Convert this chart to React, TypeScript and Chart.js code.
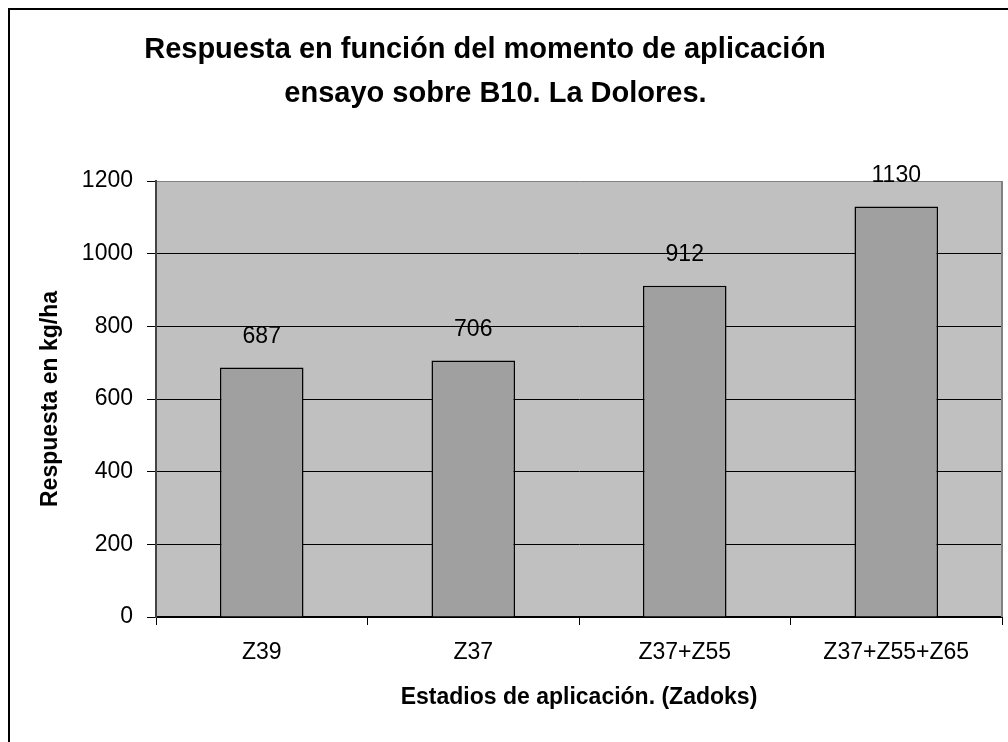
import React, { useEffect, useRef } from "react";
import { Chart, registerables } from "chart.js";

Chart.register(...registerables);

const categories = ["Z39", "Z37", "Z37+Z55", "Z37+Z55+Z65"];
const respuesta = [687, 706, 912, 1130];
const titleLines = ["Respuesta en función del momento de aplicación", "ensayo sobre B10. La Dolores."];
const yAxisTitle = "Respuesta en kg/ha";
const xAxisTitle = "Estadios de aplicación. (Zadoks)";

const FONT = "'Liberation Sans', Arial, sans-serif";

const plotBgPlugin = {
  id: "plotBg",
  beforeDraw(chart: any) {
    const { ctx, chartArea: a } = chart;
    ctx.save();
    ctx.fillStyle = "#C0C0C0";
    ctx.fillRect(a.left, a.top, a.right - a.left, a.bottom - a.top);
    ctx.restore();
  },
  afterDraw(chart: any) {
    const { ctx, chartArea: a } = chart;
    ctx.save();
    ctx.strokeStyle = "#808080";
    ctx.lineWidth = 2;
    ctx.beginPath();
    ctx.moveTo(a.right, a.top);
    ctx.lineTo(a.right, a.bottom);
    ctx.stroke();
    // title
    ctx.fillStyle = "#000";
    ctx.font = `bold 29px ${FONT}`;
    ctx.textAlign = "center";
    ctx.textBaseline = "alphabetic";
    ctx.fillText(titleLines[0], 475, 47.7);
    ctx.fillText(titleLines[1], 485.5, 91.7);
    ctx.restore();
  },
};

const valueLabelPlugin = {
  id: "valueLabels",
  afterDatasetsDraw(chart: any) {
    const { ctx } = chart;
    const meta = chart.getDatasetMeta(0);
    ctx.save();
    ctx.fillStyle = "#000";
    ctx.font = `23px ${FONT}`;
    ctx.textAlign = "center";
    ctx.textBaseline = "middle";
    meta.data.forEach((bar: any, i: number) => {
      ctx.fillText(String(respuesta[i]), bar.x, bar.y - 31);
    });
    ctx.restore();
  },
};

export default function App() {
  const ref = useRef<HTMLCanvasElement>(null);
  useEffect(() => {
    if (!ref.current) return;
    Chart.defaults.font.family = FONT;
    const chart = new Chart(ref.current, {
      type: "bar",
      data: {
        labels: categories,
        datasets: [
          {
            data: respuesta,
            backgroundColor: "#A0A0A0",
            borderColor: "#000",
            borderWidth: 1.5,
            barPercentage: 0.395,
            categoryPercentage: 1,
          },
        ],
      },
      options: {
        responsive: false,
        animation: false,
        devicePixelRatio: 1,
        layout: { padding: { top: 171, left: 10, right: 68, bottom: 73 } },
        plugins: {
          legend: { display: false },
          title: { display: false },
          tooltip: { enabled: false },
        },
        scales: {
          x: {
            grid: {
              display: true,
              drawOnChartArea: false,
              drawTicks: true,
              tickLength: 8,
              color: "#000",
              offset: true,
            },
            border: { display: true, color: "#000", width: 2 },
            ticks: {
              color: "#000",
              font: { size: 23 },
              padding: 13.7,
              maxRotation: 0,
              minRotation: 0,
              autoSkip: false,
            },
            title: {
              display: true,
              text: xAxisTitle,
              color: "#000",
              font: { size: 23, weight: "bold" },
              padding: { top: 0, bottom: 6 },
            },
            afterFit(scale: any) {
              scale.height = 100;
            },
          },
          y: {
            min: 0,
            max: 1200,
            ticks: {
              stepSize: 200,
              color: "#000",
              font: { size: 23 },
              padding: 14,
              callback: (v: any) => String(v),
            },
            grid: {
              color: (c: any) => (c.tick && c.tick.value === 1200 ? "#808080" : "#000"),
              tickColor: "#000",
              lineWidth: 1,
              drawTicks: true,
              tickLength: 9,
            },
            border: { display: true, color: "#444", width: 2 },
            title: {
              display: true,
              text: yAxisTitle,
              color: "#000",
              font: { size: 23, weight: "bold" },
              padding: { top: 17, bottom: 0 },
            },
            afterFit(scale: any) {
              scale.width = 136;
            },
          },
        },
      },
      plugins: [plotBgPlugin, valueLabelPlugin],
    });
    return () => chart.destroy();
  }, []);

  return (
    <div
      style={{
        position: "fixed",
        left: 8,
        top: 8,
        width: 1000,
        height: 734,
        overflow: "hidden",
        background: "#fff",
      }}
    >
      <div style={{ border: "2px solid #000", width: 1100, height: 820 }}>
        <canvas ref={ref} width={1060} height={780} style={{ display: "block" }} />
      </div>
    </div>
  );
}
